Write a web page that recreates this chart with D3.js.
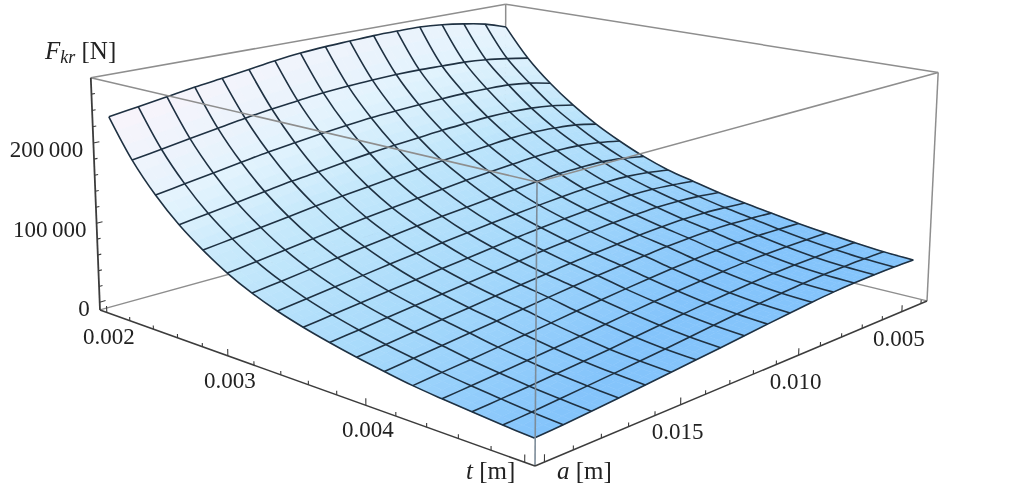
<!DOCTYPE html>
<html>
<head>
<meta charset="utf-8">
<script src="https://cdn.jsdelivr.net/npm/d3@7"></script>
<style>
    html, body { margin: 0; padding: 0; background: #fff; }
    text { font-family: "Liberation Serif", serif; fill: #222; }
    svg { filter: blur(0.45px); }
</style>
</head>
<body>
<div id="myDiv"></div>
<script>
// Mesh positions of the surface
var tValues = [0.002, 0.0021875, 0.002375, 0.0025625, 0.00275, 0.0029375, 0.003125, 0.0033125, 0.0035,
    0.0036875, 0.003875, 0.0040625, 0.00425, 0.0044375, 0.004625, 0.0048125, 0.005];
var aValues = [0.020, 0.019, 0.018, 0.017, 0.016, 0.015, 0.014, 0.013, 0.012,
    0.011, 0.010, 0.009, 0.008, 0.007, 0.006, 0.005, 0.004];

// Fkr, one row per t value, columns follow aValues
var fkrT0 = [232000, 237500, 243000, 248500, 253000, 258000, 263000, 267000, 269500, 271000, 272500, 273000, 273000, 270500, 266000, 260000, 250000];
var fkrT1 = [186000, 191600, 197200, 202700, 208300, 213000, 216700, 220400, 222600, 224100, 225100, 225100, 224100, 223200, 220400, 215800, 210200];
var fkrT2 = [151000, 156300, 161600, 166900, 172100, 176400, 180400, 183900, 186900, 188800, 190300, 191500, 192100, 191800, 190600, 186500, 179700];
var fkrT3 = [123000, 127900, 132800, 137800, 142700, 146400, 150700, 154400, 157400, 159900, 162400, 164200, 165800, 165800, 164200, 160500, 154700];
var fkrT4 = [101000, 105500, 110100, 114600, 119200, 123200, 126800, 130300, 133300, 136400, 138900, 141400, 143800, 144400, 142900, 140000, 133800];
var fkrT5 = [82500, 86600, 91200, 95700, 99800, 104000, 107700, 111400, 114700, 118000, 120900, 123300, 125400, 126200, 125400, 122100, 116700];
var fkrT6 = [68000, 72100, 76500, 80900, 85000, 89100, 92800, 96200, 99300, 102300, 105100, 107800, 110200, 110800, 110500, 107100, 102000];
var fkrT7 = [56500, 60500, 64700, 68600, 72700, 76600, 80200, 83600, 87000, 89800, 92700, 95200, 97200, 98000, 97700, 94900, 90400];
var fkrT8 = [47500, 51300, 55100, 58900, 62700, 66500, 69800, 73600, 77400, 80300, 83100, 85500, 87400, 88400, 87900, 85500, 82200];
var fkrT9 = [40000, 43600, 47400, 51200, 54800, 58400, 62000, 65600, 69200, 72000, 74800, 77200, 78800, 80000, 79600, 77600, 74400];
var fkrT10 = [33500, 37000, 40700, 44400, 47900, 51600, 55300, 58600, 62000, 64700, 67300, 69700, 71400, 72400, 72000, 70400, 68000];
var fkrT11 = [28000, 31500, 35000, 38500, 42000, 45600, 49300, 52600, 56000, 58800, 61300, 63600, 65200, 66100, 65800, 64400, 62400];
var fkrT12 = [23000, 26200, 29200, 32400, 35700, 39000, 42500, 45700, 48800, 51700, 54200, 56300, 58000, 58800, 58800, 58000, 56800];
var fkrT13 = [19500, 22000, 24700, 27500, 30400, 33400, 36700, 39900, 42900, 45500, 47900, 50000, 51700, 52500, 52800, 52700, 52300];
var fkrT14 = [16500, 18600, 20800, 23300, 25900, 28500, 31600, 34700, 37800, 40300, 42700, 44900, 46600, 47600, 48200, 48500, 48300];
var fkrT15 = [13700, 15500, 17900, 20300, 22700, 25400, 28000, 31000, 34000, 36800, 39200, 41500, 43500, 44700, 45200, 45400, 45000];
var fkrT16 = [11500, 13200, 15400, 17800, 20400, 23200, 25900, 28700, 31600, 34600, 37400, 40000, 42100, 43300, 43800, 43800, 43200];
var fkrRows = [fkrT0, fkrT1, fkrT2, fkrT3, fkrT4, fkrT5, fkrT6, fkrT7, fkrT8, fkrT9, fkrT10, fkrT11, fkrT12, fkrT13, fkrT14, fkrT15, fkrT16];

// Axis ticks
var tTicks = [0.002, 0.0022, 0.0024, 0.0026, 0.0028, 0.003, 0.0032, 0.0034, 0.0036, 0.0038, 0.004, 0.0042, 0.0044, 0.0046, 0.0048, 0.005];
var tLabels = [0.002, 0.003, 0.004];
var aTicks = [0.004, 0.005, 0.006, 0.007, 0.008, 0.009, 0.010, 0.011, 0.012, 0.013, 0.014, 0.015, 0.016, 0.017, 0.018, 0.019, 0.020];
var aLabels = [0.005, 0.010, 0.015];
var fTicks = [0, 20000, 40000, 60000, 80000, 100000, 120000, 140000, 160000, 180000, 200000, 220000, 240000, 260000];
var fLabels = [0, 100000, 200000];

var width = 1024;
var height = 488;

var svg = d3.select("#myDiv")
    .append("svg")
    .attr("width", width)
    .attr("height", height)
    .style("display", "block");

// Scales to box coordinates, 0 is the front corner of the box
var xScale = d3.scaleLinear().domain([0.00506, 0.00194]).range([0, 1]);
var yScale = d3.scaleLinear().domain([0.02032, 0.00368]).range([0, 1]);
var zScale = d3.scaleLinear().domain([-10000, 280000]).range([0, 1]);

// Perspective camera, fitted to the corners of the box
function project(x, y, z) {
    var w = 1 + 0.2363 * x + 0.2576 * y - 0.03 * z;
    return [
        (535 - 411.37 * x + 630.8 * y - 14.1 * z) / w,
        (466 - 82.75 * x - 87.5 * y - 289.5 * z) / w
    ];
}

function point3d(t, a, f) {
    return project(xScale(t), yScale(a), zScale(f));
}

// Shading of the surface, it goes from lilac white to blue
var shadeT = d3.scaleLinear().domain([0, 0.125, 0.25, 0.5, 1]).range([0, 0.2, 0.42, 0.65, 1]);
var colorScale = d3.scaleLinear()
    .domain([0, 0.25, 0.5, 0.75, 1])
    .range(["#f9f4fb", "#e2f3fd", "#c2e7fb", "#a6d9fb", "#84c4fb"]);

function shade(u, w) {
    return colorScale(Math.min(1, shadeT(u) + 0.2 * w));
}

var edgeLine = d3.line();

function drawEdge(p, q, color, lineWidth) {
    svg.append("path")
        .attr("d", edgeLine([project(p[0], p[1], p[2]), project(q[0], q[1], q[2])]))
        .attr("fill", "none")
        .attr("stroke", color)
        .attr("stroke-width", lineWidth);
}

var frameColor = "#8e8e8e";
var axisColor = "#3c3c3c";

// Box edges behind the surface
drawEdge([1, 0, 1], [1, 1, 1], frameColor, 1.5);
drawEdge([1, 1, 1], [0, 1, 1], frameColor, 1.5);
drawEdge([1, 1, 0], [1, 1, 1], frameColor, 1.5);
drawEdge([1, 0, 0], [1, 1, 0], frameColor, 1.3);
drawEdge([0, 1, 0], [1, 1, 0], frameColor, 1.3);
drawEdge([0, 1, 0], [0, 1, 1], frameColor, 1.5);

// Surface, each mesh cell is split up so the shading stays smooth
var split = 3;
var patches = [];
d3.range(tValues.length - 1).forEach(function (i) {
    d3.range(aValues.length - 2, -1, -1).forEach(function (k) {
        d3.range(split).forEach(function (m) {
            d3.range(split - 1, -1, -1).forEach(function (n) {
                patches.push({ i: i, k: k, m: m, n: n });
            });
        });
    });
});

function cellPoint(i, k, s, r) {
    var t = tValues[i] + (tValues[i + 1] - tValues[i]) * s;
    var a = aValues[k] + (aValues[k + 1] - aValues[k]) * r;
    var f = fkrRows[i][k] * (1 - s) * (1 - r) + fkrRows[i + 1][k] * s * (1 - r)
        + fkrRows[i][k + 1] * (1 - s) * r + fkrRows[i + 1][k + 1] * s * r;
    return point3d(t, a, f);
}

svg.append("g")
    .selectAll("polygon")
    .data(patches)
    .enter().append("polygon")
    .attr("points", function (d) {
        var s0 = d.m / split, s1 = (d.m + 1) / split;
        var r0 = d.n / split, r1 = (d.n + 1) / split;
        return [
            cellPoint(d.i, d.k, s0, r0),
            cellPoint(d.i, d.k, s1, r0),
            cellPoint(d.i, d.k, s1, r1),
            cellPoint(d.i, d.k, s0, r1)
        ].join(" ");
    })
    .each(function (d) {
        var color = shade((d.i + (d.m + 0.5) / split) / (tValues.length - 1),
            (d.k + (d.n + 0.5) / split) / (aValues.length - 1));
        d3.select(this).attr("fill", color).attr("stroke", color).attr("stroke-width", 0.6);
    });

// Mesh lines
var meshLine = d3.line().curve(d3.curveCatmullRom);

tValues.forEach(function (t, i) {
    svg.append("path")
        .attr("d", meshLine(aValues.map(function (a, k) { return point3d(t, a, fkrRows[i][k]); })))
        .attr("fill", "none")
        .attr("stroke", "#1f3142")
        .attr("stroke-width", 1.6);
});

aValues.forEach(function (a, k) {
    svg.append("path")
        .attr("d", meshLine(tValues.map(function (t, i) { return point3d(t, a, fkrRows[i][k]); })))
        .attr("fill", "none")
        .attr("stroke", "#1f3142")
        .attr("stroke-width", 1.6);
});

// Box edges in front of the surface
drawEdge([1, 0, 1], [0, 0, 1], frameColor, 1.5);
drawEdge([0, 0, 1], [0, 1, 1], frameColor, 1.5);
drawEdge([0, 0, 0], [0, 0, 1], "#7d8c99", 1.6);

// Axis lines
drawEdge([1, 0, 0], [0, 0, 0], axisColor, 1.6);
drawEdge([0, 0, 0], [0, 1, 0], axisColor, 1.6);
drawEdge([1, 0, 0], [1, 0, 1], axisColor, 1.8);

// Ticks, major ones are the labelled steps
tTicks.forEach(function (t, i) {
    var x = xScale(t);
    drawEdge([x, 0, 0], [x, 0, i % 5 === 0 ? 0.028 : 0.016], axisColor, 1.1);
});

aTicks.forEach(function (a, i) {
    var y = yScale(a);
    drawEdge([0, y, 0], [0, y, (i - 1) % 5 === 0 ? 0.028 : 0.016], axisColor, 1.1);
});

fTicks.forEach(function (f, i) {
    var z = zScale(f);
    drawEdge([1, 0, z], [1, i % 5 === 0 ? 0.012 : 0.007, z], axisColor, 1.1);
});

// Tick labels
var fontSize = 23;
var titleSize = 25;

function addLabel(pos, dx, dy, anchor, label) {
    svg.append("text")
        .attr("x", pos[0] + dx)
        .attr("y", pos[1] + dy)
        .attr("text-anchor", anchor)
        .attr("font-size", fontSize)
        .text(label);
}

tLabels.forEach(function (t) {
    addLabel(project(xScale(t), 0, 0), 2, 32, "middle", d3.format(".3f")(t));
});

aLabels.forEach(function (a) {
    addLabel(project(0, yScale(a), 0), -3, 34, "middle", d3.format(".3f")(a));
});

fLabels.forEach(function (f) {
    addLabel(project(1, 0, zScale(f)), -10, 14, "end", d3.format(",")(f).replace(",", "\u2009"));
});

// Axis titles
function addTitle(x, y, symbol, sub, unit) {
    var title = svg.append("text")
        .attr("x", x)
        .attr("y", y)
        .attr("font-size", titleSize);
    title.append("tspan").attr("font-style", "italic").text(symbol);
    if (sub) {
        title.append("tspan").attr("font-style", "italic").attr("font-size", 18).attr("dy", 4).text(sub);
        title.append("tspan").attr("dy", -4).text(unit);
    } else {
        title.append("tspan").text(unit);
    }
}

addTitle(45, 59, "F", "kr", " [N]");
addTitle(466, 479, "t", null, " [m]");
addTitle(557, 479, "a", null, " [m]");
</script>
</body>
</html>
